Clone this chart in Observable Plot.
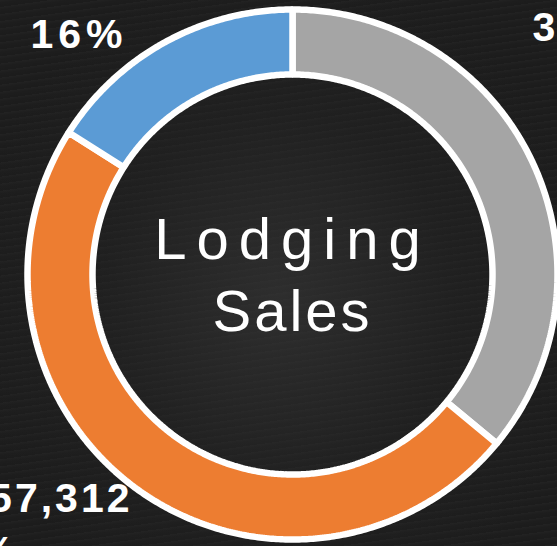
<!DOCTYPE html>
<html>
<head>
<meta charset="utf-8">
<script src="https://cdn.jsdelivr.net/npm/d3@7"></script>
<script src="https://cdn.jsdelivr.net/npm/@observablehq/plot@0.6"></script>
<style>
  html, body { margin: 0; padding: 0; background: #1c1c1c; }
  #chart {
    width: 557px; height: 546px; overflow: hidden;
    background:
      radial-gradient(ellipse at 50% 55%, rgba(60,60,60,0.55) 0%, rgba(40,40,40,0.3) 45%, rgba(0,0,0,0) 80%),
      repeating-linear-gradient(172deg, rgba(255,255,255,0.025) 0px, rgba(255,255,255,0.0) 3px, rgba(0,0,0,0.05) 7px),
      #1d1d1d;
  }
</style>
</head>
<body>
<div id="chart"></div>
<script>
// ---- data (clockwise from 12 o'clock) ----
const segments = ["Segment A", "Segment B", "Segment C"];
const shares = [36, 48, 16];
const colors = ["#A5A5A5", "#ED7D31", "#5B9BD5"];
const percentLabels = ["36%", "48%", "16%"];
const amountLabels = ["", "$157,312", ""];
const centerLines = ["Lodging", "Sales"];

// ---- layout ----
const W = 557, H = 546;
const outerR = 265, innerR = 200;
const FONT = "Liberation Sans, Arial, sans-serif";
// label anchors in chart units (centre of donut = 0,0)
const startLabels = [
  {text: percentLabels[0], x: 240, y: 234},
  {text: percentLabels[1], x: -370, y: -290},
  {text: percentLabels[2], x: -262, y: 227}
];
const endLabels = [
  {text: amountLabels[1], x: -160, y: -237}
];

const arcs = d3.pie().sort(null).value(d => d)(shares);
const ringPts = [];
arcs.forEach((a, i) => {
  const n = Math.max(8, Math.ceil((a.endAngle - a.startAngle) / (Math.PI / 360)));
  const pts = [];
  for (let k = 0; k <= n; k++) {
    const t = a.startAngle + (a.endAngle - a.startAngle) * k / n;
    pts.push({seg: segments[i], x: outerR * Math.sin(t), y: outerR * Math.cos(t)});
  }
  for (let k = n; k >= 0; k--) {
    const t = a.startAngle + (a.endAngle - a.startAngle) * k / n;
    pts.push({seg: segments[i], x: innerR * Math.sin(t), y: innerR * Math.cos(t)});
  }
  pts.push({...pts[0]});
  ringPts.push(...pts);
});

const labelStyle = {fill: "white", fontSize: 41, fontWeight: "bold", fontFamily: FONT, lineAnchor: "bottom"};

const plot = Plot.plot({
  width: W, height: H, margin: 0,
  x: {domain: [-292, 265], axis: null},
  y: {domain: [-272, 274], axis: null},
  color: {domain: segments, range: colors},
  style: {background: "transparent"},
  marks: [
    Plot.line(ringPts, {x: "x", y: "y", z: "seg", fill: "seg", stroke: "white", strokeWidth: 6.5, strokeLinejoin: "miter"}),
    Plot.text([centerLines[0]], {x: () => 0, y: () => 0, text: d => d, dy: -16, dx: 0, lineAnchor: "bottom",
      fill: "white", fontSize: 58, fontFamily: FONT}),
    Plot.text([centerLines[1]], {x: () => 0, y: () => 0, text: d => d, dy: 56, dx: 0, lineAnchor: "bottom",
      fill: "white", fontSize: 58, fontFamily: FONT}),
    Plot.text(startLabels, {x: "x", y: "y", text: "text", textAnchor: "start", ...labelStyle}),
    Plot.text(endLabels, {x: "x", y: "y", text: "text", textAnchor: "end", ...labelStyle})
  ]
});
// letter spacing (style only)
const textGroups = plot.querySelectorAll('g[aria-label="text"]');
const spacings = ["10px", "3px", "5px", "3px"];
textGroups.forEach((g, i) => { g.style.letterSpacing = spacings[i] || "0px"; });
document.getElementById("chart").appendChild(plot);
</script>
</body>
</html>
